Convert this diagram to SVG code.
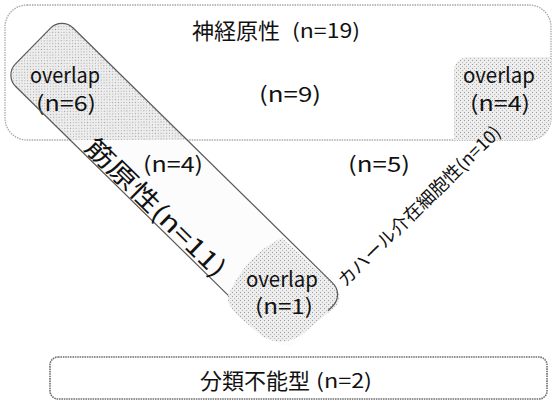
<svg xmlns="http://www.w3.org/2000/svg" width="555" height="403" viewBox="0 0 555 403">
<defs>
<style>
.jp{font-family:"Noto Sans CJK JP","Noto Sans CJK SC",sans-serif;fill:#111}
.lat{font-family:"Noto Sans CJK JP","Liberation Sans",sans-serif;fill:#111}
.box{fill:#ffffff;stroke:#a8a8a8;stroke-width:1.3;stroke-dasharray:1.5 1}
.bot{fill:#ffffff;stroke:#707070;stroke-width:1.6;stroke-dasharray:1.6 0.8}
.stip{fill:url(#dots)}
.edge{fill:none;stroke:#5a5a5a;stroke-width:1.2}
</style>
<pattern id="dots" width="4" height="4" patternUnits="userSpaceOnUse">
<rect width="4" height="4" fill="#ededed"/>
<rect x="0" y="0" width="1" height="1" fill="#9c9c9c"/>
<rect x="2" y="2" width="1" height="1" fill="#b8b8b8"/>
</pattern>
<clipPath id="neuralClip"><rect x="5" y="5" width="546" height="135" rx="22"/></clipPath>
</defs>

<g id="neural">
<rect class="box" x="5" y="5" width="546" height="135" rx="22"/>
<text class="jp" x="192" y="39" font-size="22">神経原性</text>
<text class="lat" x="292" y="38" font-size="20" textLength="68" lengthAdjust="spacingAndGlyphs">(n=19)</text>
<text class="lat" x="290" y="102" font-size="21" text-anchor="middle" textLength="62" lengthAdjust="spacingAndGlyphs">(n=9)</text>
</g>

<g id="myogenic">
<rect x="0" y="-41" width="396" height="82" rx="16" fill="#fcfcfc" transform="translate(33,46) rotate(44.5)"/>
</g>

<g id="overlap-neural-myogenic">
<g clip-path="url(#neuralClip)">
<rect x="0" y="-41" width="396" height="82" rx="16" class="stip" transform="translate(33,46) rotate(44.5)"/>
</g>
<text class="lat" x="65" y="83" font-size="21" text-anchor="middle" textLength="70" lengthAdjust="spacingAndGlyphs">overlap</text>
<text class="lat" x="66" y="111" font-size="21" text-anchor="middle" textLength="60" lengthAdjust="spacingAndGlyphs">(n=6)</text>
</g>

<g id="overlap-neural-icc">
<g clip-path="url(#neuralClip)">
<rect class="stip" x="454" y="57" width="110" height="100" rx="14"/>
</g>
<text class="lat" x="499" y="83" font-size="21" text-anchor="middle" textLength="72" lengthAdjust="spacingAndGlyphs">overlap</text>
<text class="lat" x="500" y="111" font-size="21" text-anchor="middle" textLength="60" lengthAdjust="spacingAndGlyphs">(n=4)</text>
</g>

<g id="overlap-myogenic-icc">
<path class="stip" d="M228,296 C238,272 258,248 282,238 L333,284 Q345,296 335,307 L300,336 Q280,347 262,336 L238,316 Q226,304 228,296 Z"/>
<text class="lat" x="282" y="287" font-size="21" text-anchor="middle" textLength="72" lengthAdjust="spacingAndGlyphs">overlap</text>
<text class="lat" x="284" y="314" font-size="21" text-anchor="middle" textLength="58" lengthAdjust="spacingAndGlyphs">(n=1)</text>
</g>

<g id="myogenic-outline">
<path class="edge" transform="translate(33,46) rotate(44.5)" d="M314,41 L16,41 A16,16 0 0 1 0,25 L0,-25 A16,16 0 0 1 16,-41 L380,-41 A16,16 0 0 1 396,-25 L396,-18"/>
<text class="lat" x="173" y="172" font-size="21" text-anchor="middle" textLength="60" lengthAdjust="spacingAndGlyphs">(n=4)</text>
<text class="jp" transform="translate(157,206) rotate(44.5)" font-size="25" text-anchor="middle" dominant-baseline="central" textLength="186" lengthAdjust="spacingAndGlyphs">筋原性(n=11)</text>
</g>

<g id="icc">
<text class="lat" x="379" y="172" font-size="21" text-anchor="middle" textLength="62" lengthAdjust="spacingAndGlyphs">(n=5)</text>
<text class="jp" transform="translate(418,205) rotate(-44.5)" font-size="18" text-anchor="middle" dominant-baseline="central" textLength="220" lengthAdjust="spacingAndGlyphs">カハール介在細胞性(n=10)</text>
</g>

<g id="unclassified">
<rect class="bot" x="50" y="357" width="497" height="42" rx="8"/>
<text class="jp" x="200" y="389" font-size="22">分類不能型</text>
<text class="lat" x="316" y="388" font-size="20" textLength="56" lengthAdjust="spacingAndGlyphs">(n=2)</text>
</g>

<g id="connectors"></g>
</svg>
